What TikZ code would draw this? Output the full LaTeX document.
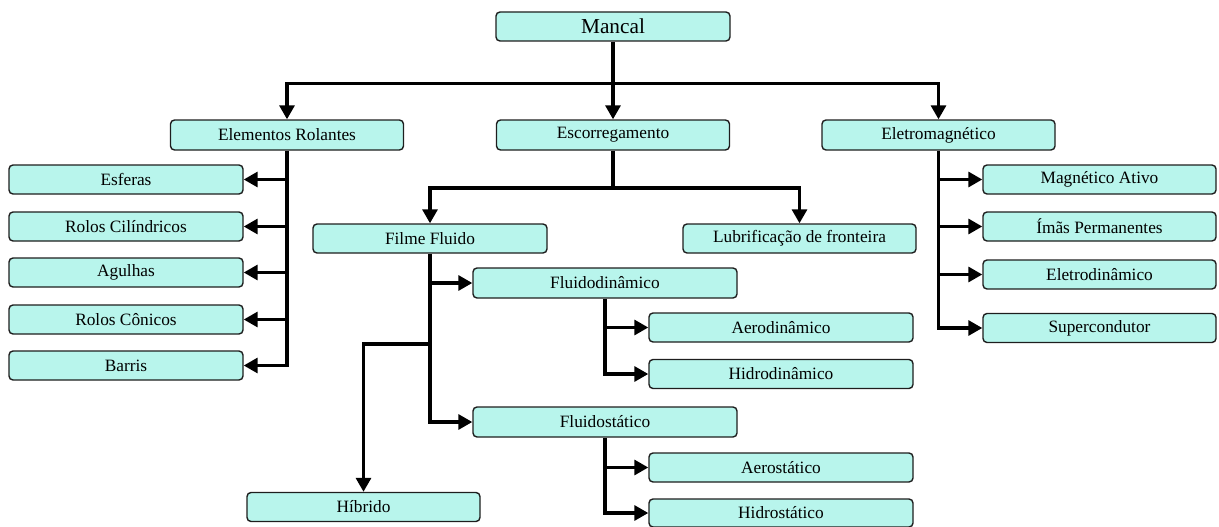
\documentclass[tikz,border=0pt]{standalone}
\usepackage{fontspec}
\setmainfont{Liberation Serif}
\usetikzlibrary{arrows.meta}
\definecolor{boxfill}{RGB}{184,245,236}
\definecolor{boxline}{RGB}{30,30,30}
\tikzset{
  box/.style={draw=boxline, line width=1.4pt, fill=boxfill, rounded corners=4pt,
    minimum width=233pt, minimum height=29pt, inner sep=0pt,
    font=\fontsize{17.3}{20}\selectfont},
  widebox/.style={box, minimum width=264pt},
  conn/.style={line width=3.2pt, line join=miter, draw=black},
  arr/.style={conn, -{Triangle[length=14pt,width=15pt]}}
}
\begin{document}
\begin{tikzpicture}[x=1pt,y=-1pt]
\useasboundingbox (0,0) rectangle (1219,527);
% top level
\node[box, minimum width=234pt, font=\fontsize{21.3}{24}\selectfont] (mancal) at (613,26.5) {Mancal};
\node[box, minimum height=30pt] (elem) at (287,135) {Elementos Rolantes};
\node[box, minimum height=30pt] (escor) at (613,135) {Escorregamento};
\node[box, minimum height=30pt] (eletro) at (938.5,135) {Eletromagnético};
% left column
\node[box, minimum width=234pt] (esferas) at (126,179.5) {Esferas};
\node[box, minimum width=234pt] (rolcil) at (126,226.5) {Rolos Cilíndricos};
\node[box, minimum width=234pt] (agulhas) at (126,272.5) {Agulhas};
\node[box, minimum width=234pt] (rolcon) at (126,319.5) {Rolos Cônicos};
\node[box, minimum width=234pt] (barris) at (126,365.5) {Barris};
% middle
\node[box, minimum width=234pt] (filme) at (430,238.5) {Filme Fluido};
\node[box] (lubri) at (799.5,238.5) {Lubrificação de fronteira};
\node[widebox, minimum height=30pt] (fdin) at (605,283) {Fluidodinâmico};
\node[widebox] (aerod) at (781,327.5) {Aerodinâmico};
\node[widebox] (hidrod) at (781,374) {Hidrodinâmico};
\node[widebox, minimum height=30pt] (fsta) at (605,422) {Fluidostático};
\node[widebox] (aeros) at (781,467.5) {Aerostático};
\node[widebox, minimum height=28pt] (hidros) at (781,513) {Hidrostático};
\node[box] (hibrido) at (363.5,507) {Híbrido};
% right column
\node[box] (mag) at (1099.5,179.5) {Magnético Ativo};
\node[box] (imas) at (1099.5,226.5) {Ímãs Permanentes};
\node[box] (eletrod) at (1099.5,274.5) {Eletrodinâmico};
\node[box] (super) at (1099.5,328) {Supercondutor};
% connectors: top bus
\coordinate (bus) at (613,83.5);
\draw[arr] (mancal.south) -- (escor.north);
\draw[arr] (bus) -| (elem.north);
\draw[arr] (bus) -| (eletro.north);
% Elementos Rolantes
\draw[arr] (elem.south) |- (barris.east);
\draw[arr] (elem.south |- esferas.east) -- (esferas.east);
\draw[arr] (elem.south |- rolcil.east) -- (rolcil.east);
\draw[arr] (elem.south |- agulhas.east) -- (agulhas.east);
\draw[arr] (elem.south |- rolcon.east) -- (rolcon.east);
% Escorregamento
\coordinate (bus2) at (613,188);
\draw[conn] (escor.south) -- (bus2);
\draw[arr] (bus2) -| (filme.north);
\draw[arr] (bus2) -| (lubri.north);
% Filme Fluido
\draw[arr] (filme.south) |- (fsta.west);
\draw[arr] (filme.south |- fdin.west) -- (fdin.west);
\coordinate (hb) at (430,344);
\draw[arr] (hb) -| (hibrido.north);
% Fluidodinamico
\draw[arr] (fdin.south) |- (hidrod.west);
\draw[arr] (fdin.south |- aerod.west) -- (aerod.west);
% Fluidostatico
\draw[arr] (fsta.south) |- (hidros.west);
\draw[arr] (fsta.south |- aeros.west) -- (aeros.west);
% Eletromagnetico
\draw[arr] (eletro.south) |- (super.west);
\draw[arr] (eletro.south |- mag.west) -- (mag.west);
\draw[arr] (eletro.south |- imas.west) -- (imas.west);
\draw[arr] (eletro.south |- eletrod.west) -- (eletrod.west);
\end{tikzpicture}
\end{document}
